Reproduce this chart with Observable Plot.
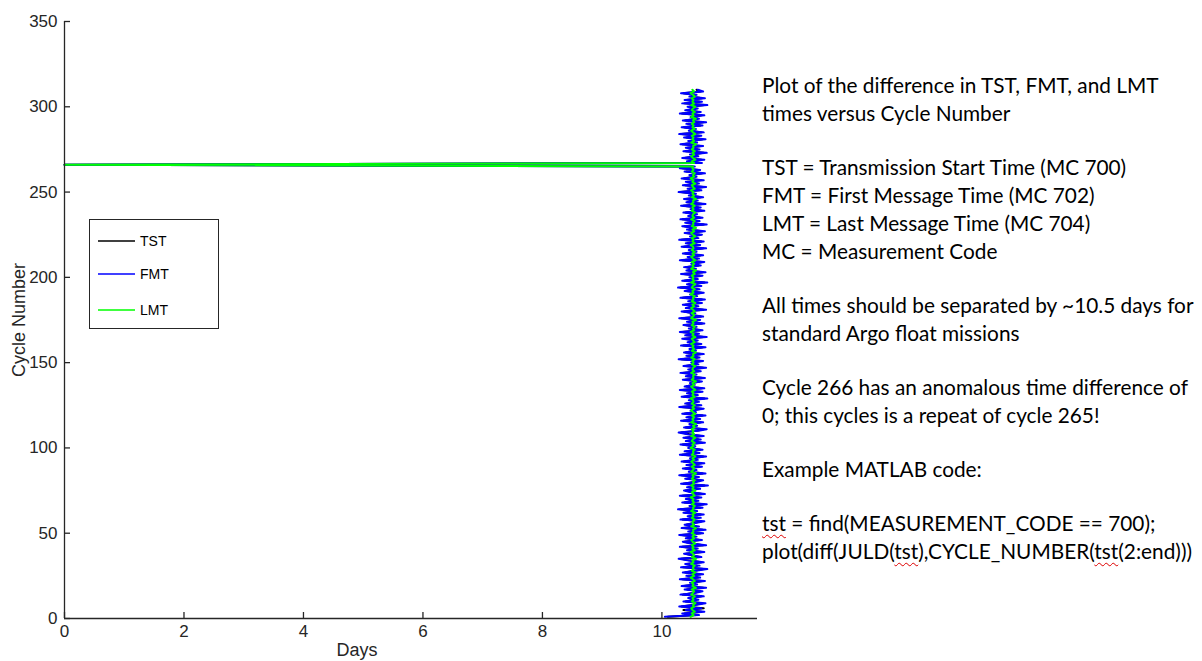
<!DOCTYPE html>
<html>
<head>
<meta charset="utf-8">
<script src="https://cdn.jsdelivr.net/npm/d3@7"></script>
<script src="https://cdn.jsdelivr.net/npm/@observablehq/plot@0.6"></script>
<style>
  html, body { margin: 0; padding: 0; background: #fff; }
  #wrap { position: relative; width: 1202px; height: 661px; overflow: hidden; background: #fff; }
  #chart { position: absolute; left: 0; top: 0; }
  #chart svg text { font-size: 17px !important; font-family: "Liberation Sans", Arial, sans-serif !important; }
  .lab { position: absolute; font-family: "Liberation Sans", Arial, sans-serif; color: #262626; font-size: 18px; white-space: nowrap; }
  #legend { position: absolute; left: 89px; top: 219px; width: 128px; height: 108px; border: 1px solid #262626; background: #fff; }
  #notes { position: absolute; left: 762px; top: 71px; font-family: Lato, "Open Sans", sans-serif; font-size: 20.8px; color: #000; line-height: 28px; white-space: nowrap; }
  #notes p { margin: 0 0 26px 0; }
  .sp { text-decoration: underline wavy #d00; text-decoration-thickness: 1px; text-underline-offset: 3px; }
</style>
</head>
<body>
<div id="wrap">
  <div id="chart"></div>
  <div class="lab" id="ylab" style="left:19px; top:320px; transform: translate(-50%,-50%) rotate(-90deg);">Cycle Number</div>
  <div class="lab" id="xlab" style="left:357px; top:650px; transform: translate(-50%,-50%);">Days</div>
  <div id="legend"></div>
  <div id="notes">
    <p>Plot of the difference in TST, FMT, and LMT<br>times versus Cycle Number</p>
    <p>TST = Transmission Start Time (MC 700)<br>FMT = First Message Time (MC 702)<br>LMT = Last Message Time (MC 704)<br>MC = Measurement Code</p>
    <p>All times should be separated by ~10.5 days for<br>standard Argo float missions</p>
    <p>Cycle 266 has an anomalous time difference of<br>0; this cycles is a repeat of cycle 265!</p>
    <p>Example MATLAB code:</p>
    <p><span class="sp">tst</span> = find(MEASUREMENT_CODE == 700);<br>plot(diff(JULD(<span class="sp">tst</span>),CYCLE_NUMBER(<span class="sp">tst</span>(2:end)))</p>
  </div>
</div>
<script>
// Series: time difference (days) per cycle, cycles 1..310
const seriesNames = ["TST", "FMT", "LMT"];
const seriesColors = ["#000000", "#0000ff", "#00ff00"];
const xTicks = [0, 2, 4, 6, 8, 10];
const yTicks = [0, 50, 100, 150, 200, 250, 300, 350];

const tst = [
10.10,10.58,10.38,10.66,10.36,10.70,10.33,10.55,10.68,10.40,
10.57,10.47,10.66,10.35,10.52,10.64,10.42,10.69,10.37,10.56,
10.50,10.67,10.34,10.60,10.44,10.65,10.39,10.54,10.70,10.36,
10.59,10.42,10.66,10.48,10.32,10.62,10.50,10.40,10.67,10.45,
10.57,10.34,10.69,10.51,10.38,10.63,10.43,10.55,10.33,10.65,
10.47,10.68,10.37,10.58,10.41,10.53,10.66,10.35,10.61,10.46,
10.65,10.39,10.56,10.31,10.64,10.49,10.70,10.38,10.58,10.43,
10.62,10.34,10.67,10.51,10.40,10.60,10.45,10.71,10.36,10.54,
10.65,10.42,10.59,10.33,10.68,10.48,10.55,10.39,10.63,10.44,
10.66,10.37,10.57,10.50,10.69,10.34,10.60,10.41,10.64,10.47,
10.53,10.35,10.67,10.43,10.61,10.39,10.65,10.46,10.32,10.58,
10.70,10.40,10.56,10.49,10.65,10.36,10.60,10.44,10.68,10.38,
10.54,10.50,10.66,10.33,10.62,10.42,10.59,10.48,10.71,10.37,
10.57,10.45,10.64,10.34,10.67,10.41,10.52,10.50,10.63,10.39,
10.68,10.43,10.55,10.35,10.61,10.47,10.69,10.40,10.58,10.51,
10.65,10.32,10.60,10.44,10.66,10.40,10.54,10.49,10.68,10.36,
10.62,10.46,10.57,10.38,10.70,10.42,10.59,10.34,10.64,10.48,
10.55,10.39,10.67,10.45,10.61,10.33,10.65,10.50,10.53,10.37,
10.69,10.43,10.58,10.39,10.63,10.47,10.67,10.35,10.56,10.50,
10.66,10.41,10.60,10.31,10.62,10.45,10.71,10.38,10.57,10.49,
10.64,10.36,10.68,10.44,10.54,10.40,10.61,10.51,10.67,10.34,
10.59,10.46,10.65,10.39,10.55,10.48,10.69,10.37,10.60,10.43,
10.66,10.33,10.58,10.50,10.63,10.41,10.67,10.45,10.53,10.38,
10.70,10.42,10.60,10.35,10.64,10.47,10.56,10.40,10.66,10.51,
10.61,10.36,10.68,10.44,10.57,10.40,10.65,10.48,10.54,10.32,
10.62,10.46,10.69,10.39,10.59,10.43,10.66,10.37,10.55,10.49,
10.67,10.41,10.61,10.34,10.52,0.00,10.63,10.45,10.66,10.38,
10.58,10.50,10.70,10.40,10.60,10.43,10.65,10.35,10.56,10.47,
10.68,10.41,10.62,10.33,10.66,10.48,10.54,10.37,10.64,10.44,
10.69,10.39,10.59,10.51,10.66,10.34,10.61,10.42,10.57,10.46,
10.71,10.38,10.63,10.41,10.67,10.49,10.55,10.36,10.65,10.58
];

const fmt = [
10.05,10.62,10.34,10.71,10.40,10.66,10.29,10.58,10.73,10.36,
10.61,10.44,10.70,10.31,10.55,10.68,10.38,10.74,10.33,10.59,
10.47,10.72,10.30,10.64,10.41,10.69,10.35,10.57,10.76,10.32,
10.63,10.39,10.70,10.45,10.28,10.66,10.53,10.37,10.71,10.42,
10.60,10.30,10.74,10.48,10.35,10.67,10.40,10.58,10.29,10.69,
10.44,10.73,10.33,10.62,10.38,10.56,10.71,10.31,10.65,10.43,
10.70,10.36,10.59,10.27,10.68,10.46,10.75,10.34,10.61,10.40,
10.66,10.30,10.72,10.49,10.37,10.64,10.42,10.77,10.32,10.57,
10.69,10.39,10.62,10.29,10.73,10.45,10.58,10.35,10.67,10.41,
10.71,10.33,10.60,10.47,10.74,10.30,10.63,10.38,10.68,10.44,
10.56,10.31,10.72,10.40,10.65,10.36,10.70,10.43,10.28,10.61,
10.75,10.37,10.59,10.46,10.69,10.32,10.64,10.41,10.73,10.34,
10.57,10.48,10.70,10.29,10.66,10.39,10.62,10.45,10.76,10.33,
10.60,10.42,10.68,10.30,10.71,10.38,10.55,10.47,10.67,10.35,
10.72,10.40,10.58,10.31,10.65,10.44,10.74,10.36,10.61,10.49,
10.69,10.28,10.63,10.41,10.70,10.37,10.57,10.46,10.73,10.32,
10.66,10.43,10.60,10.34,10.75,10.39,10.62,10.30,10.68,10.45,
10.58,10.36,10.71,10.42,10.64,10.29,10.69,10.48,10.56,10.33,
10.74,10.40,10.61,10.35,10.67,10.44,10.72,10.31,10.59,10.47,
10.70,10.38,10.63,10.27,10.66,10.42,10.76,10.34,10.60,10.46,
10.68,10.32,10.73,10.41,10.57,10.37,10.65,10.49,10.71,10.30,
10.62,10.43,10.69,10.35,10.58,10.45,10.74,10.33,10.64,10.40,
10.70,10.29,10.61,10.47,10.67,10.38,10.72,10.42,10.56,10.34,
10.75,10.39,10.63,10.31,10.68,10.44,10.59,10.36,10.71,10.48,
10.65,10.32,10.73,10.41,10.60,10.37,10.69,10.45,10.57,10.28,
10.66,10.43,10.74,10.35,10.62,10.40,10.70,10.33,10.58,10.46,
10.72,10.38,10.64,10.30,10.55,0.00,10.67,10.42,10.71,10.34,
10.61,10.47,10.75,10.36,10.63,10.40,10.69,10.31,10.59,10.44,
10.73,10.37,10.66,10.29,10.70,10.45,10.57,10.33,10.68,10.41,
10.74,10.35,10.62,10.48,10.71,10.30,10.65,10.39,10.60,10.43,
10.76,10.34,10.67,10.38,10.72,10.46,10.58,10.32,10.69,10.60
];

const lmt = [
10.48,10.53,10.50,10.55,10.51,10.49,10.54,10.52,10.56,10.50,
10.53,10.51,10.55,10.49,10.52,10.54,10.50,10.57,10.51,10.53,
10.50,10.55,10.52,10.48,10.54,10.51,10.56,10.50,10.53,10.52,
10.55,10.49,10.53,10.51,10.57,10.50,10.54,10.52,10.48,10.55,
10.51,10.53,10.50,10.56,10.52,10.49,10.54,10.51,10.55,10.50,
10.53,10.52,10.57,10.49,10.54,10.51,10.52,10.55,10.50,10.53,
10.51,10.56,10.49,10.53,10.52,10.55,10.50,10.54,10.51,10.53,
10.48,10.55,10.52,10.50,10.56,10.51,10.53,10.49,10.54,10.52,
10.55,10.50,10.53,10.51,10.57,10.49,10.52,10.54,10.50,10.55,
10.52,10.49,10.54,10.51,10.56,10.50,10.53,10.52,10.55,10.48,
10.53,10.51,10.55,10.50,10.52,10.56,10.49,10.54,10.51,10.53,
10.50,10.55,10.52,10.57,10.49,10.53,10.51,10.54,10.50,10.56,
10.52,10.49,10.54,10.51,10.55,10.50,10.53,10.52,10.48,10.55,
10.51,10.53,10.50,10.56,10.52,10.49,10.54,10.51,10.57,10.50,
10.53,10.52,10.55,10.49,10.54,10.51,10.52,10.56,10.50,10.53,
10.51,10.55,10.49,10.53,10.52,10.57,10.50,10.54,10.51,10.53,
10.49,10.55,10.52,10.50,10.56,10.51,10.53,10.48,10.54,10.52,
10.55,10.50,10.53,10.51,10.57,10.49,10.52,10.54,10.50,10.55,
10.52,10.49,10.54,10.51,10.56,10.50,10.53,10.52,10.55,10.48,
10.53,10.51,10.55,10.50,10.52,10.56,10.49,10.54,10.51,10.53,
10.50,10.55,10.52,10.57,10.49,10.53,10.51,10.54,10.50,10.56,
10.52,10.49,10.54,10.51,10.55,10.50,10.53,10.52,10.48,10.55,
10.51,10.53,10.50,10.56,10.52,10.49,10.54,10.51,10.57,10.50,
10.53,10.52,10.55,10.49,10.54,10.51,10.52,10.56,10.50,10.53,
10.51,10.55,10.49,10.53,10.52,10.57,10.50,10.54,10.51,10.53,
10.49,10.55,10.52,10.50,10.56,10.51,10.53,10.48,10.54,10.52,
10.55,10.50,10.53,10.51,10.52,0.00,10.54,10.50,10.56,10.52,
10.49,10.54,10.51,10.55,10.50,10.53,10.52,10.57,10.49,10.54,
10.51,10.53,10.50,10.56,10.52,10.49,10.55,10.51,10.53,10.50,
10.54,10.52,10.57,10.49,10.53,10.51,10.55,10.50,10.52,10.56,
10.49,10.54,10.51,10.53,10.50,10.55,10.52,10.48,10.54,10.51
];

const firstCycle = 1;
const seriesValues = [tst, fmt, lmt];
const rows = seriesValues.map(vals => vals.map((v, i) => ({days: v, cycle: firstCycle + i})));

const W = 760, H = 661;
const mL = 64, mR = 3, mT = 21, mB = 43;
const axisColor = "#262626";

const chart = Plot.plot({
  width: W, height: H,
  marginLeft: mL, marginRight: mR, marginTop: mT, marginBottom: mB,
  style: {fontFamily: "'Liberation Sans', Arial, sans-serif", fontSize: "17px", color: axisColor, background: "#fff"},
  x: {domain: [0, 11.6]},
  y: {domain: [0, 350]},
  marks: [
    ...rows.map((r, k) => Plot.line(r, {x: "days", y: "cycle", stroke: seriesColors[k], strokeWidth: 2})),
    Plot.ruleX([0], {stroke: axisColor, strokeWidth: 1.3}),
    Plot.ruleY([0], {stroke: axisColor, strokeWidth: 1.3}),
    Plot.tickY(yTicks, {stroke: axisColor, strokeWidth: 1.3, insetRight: (W - mL - mR) - 6}),
    Plot.tickX(xTicks, {stroke: axisColor, strokeWidth: 1.3, insetTop: (H - mT - mB) - 6}),
    Plot.axisY(yTicks, {tickSize: 0, tickPadding: 7, label: null, fontSize: 17}),
    Plot.axisX(xTicks, {tickSize: 0, tickPadding: 6, label: null, fontSize: 17})
  ]
});
document.getElementById("chart").appendChild(chart);

// Legend
const leg = d3.select("#legend");
const legY = [21, 54, 90];
const lsvg = leg.append("svg").attr("width", 128).attr("height", 108).style("position", "absolute").style("left", 0).style("top", 0);
seriesNames.forEach((name, i) => {
  lsvg.append("line").attr("x1", 8).attr("x2", 45).attr("y1", legY[i]).attr("y2", legY[i]).attr("stroke", seriesColors[i]).attr("stroke-width", 1.3);
  lsvg.append("text").attr("x", 50).attr("y", legY[i]).attr("dy", "0.35em").attr("font-family", "'Liberation Sans', Arial, sans-serif").attr("font-size", 14).attr("fill", "#000").text(name);
});
</script>
</body>
</html>
